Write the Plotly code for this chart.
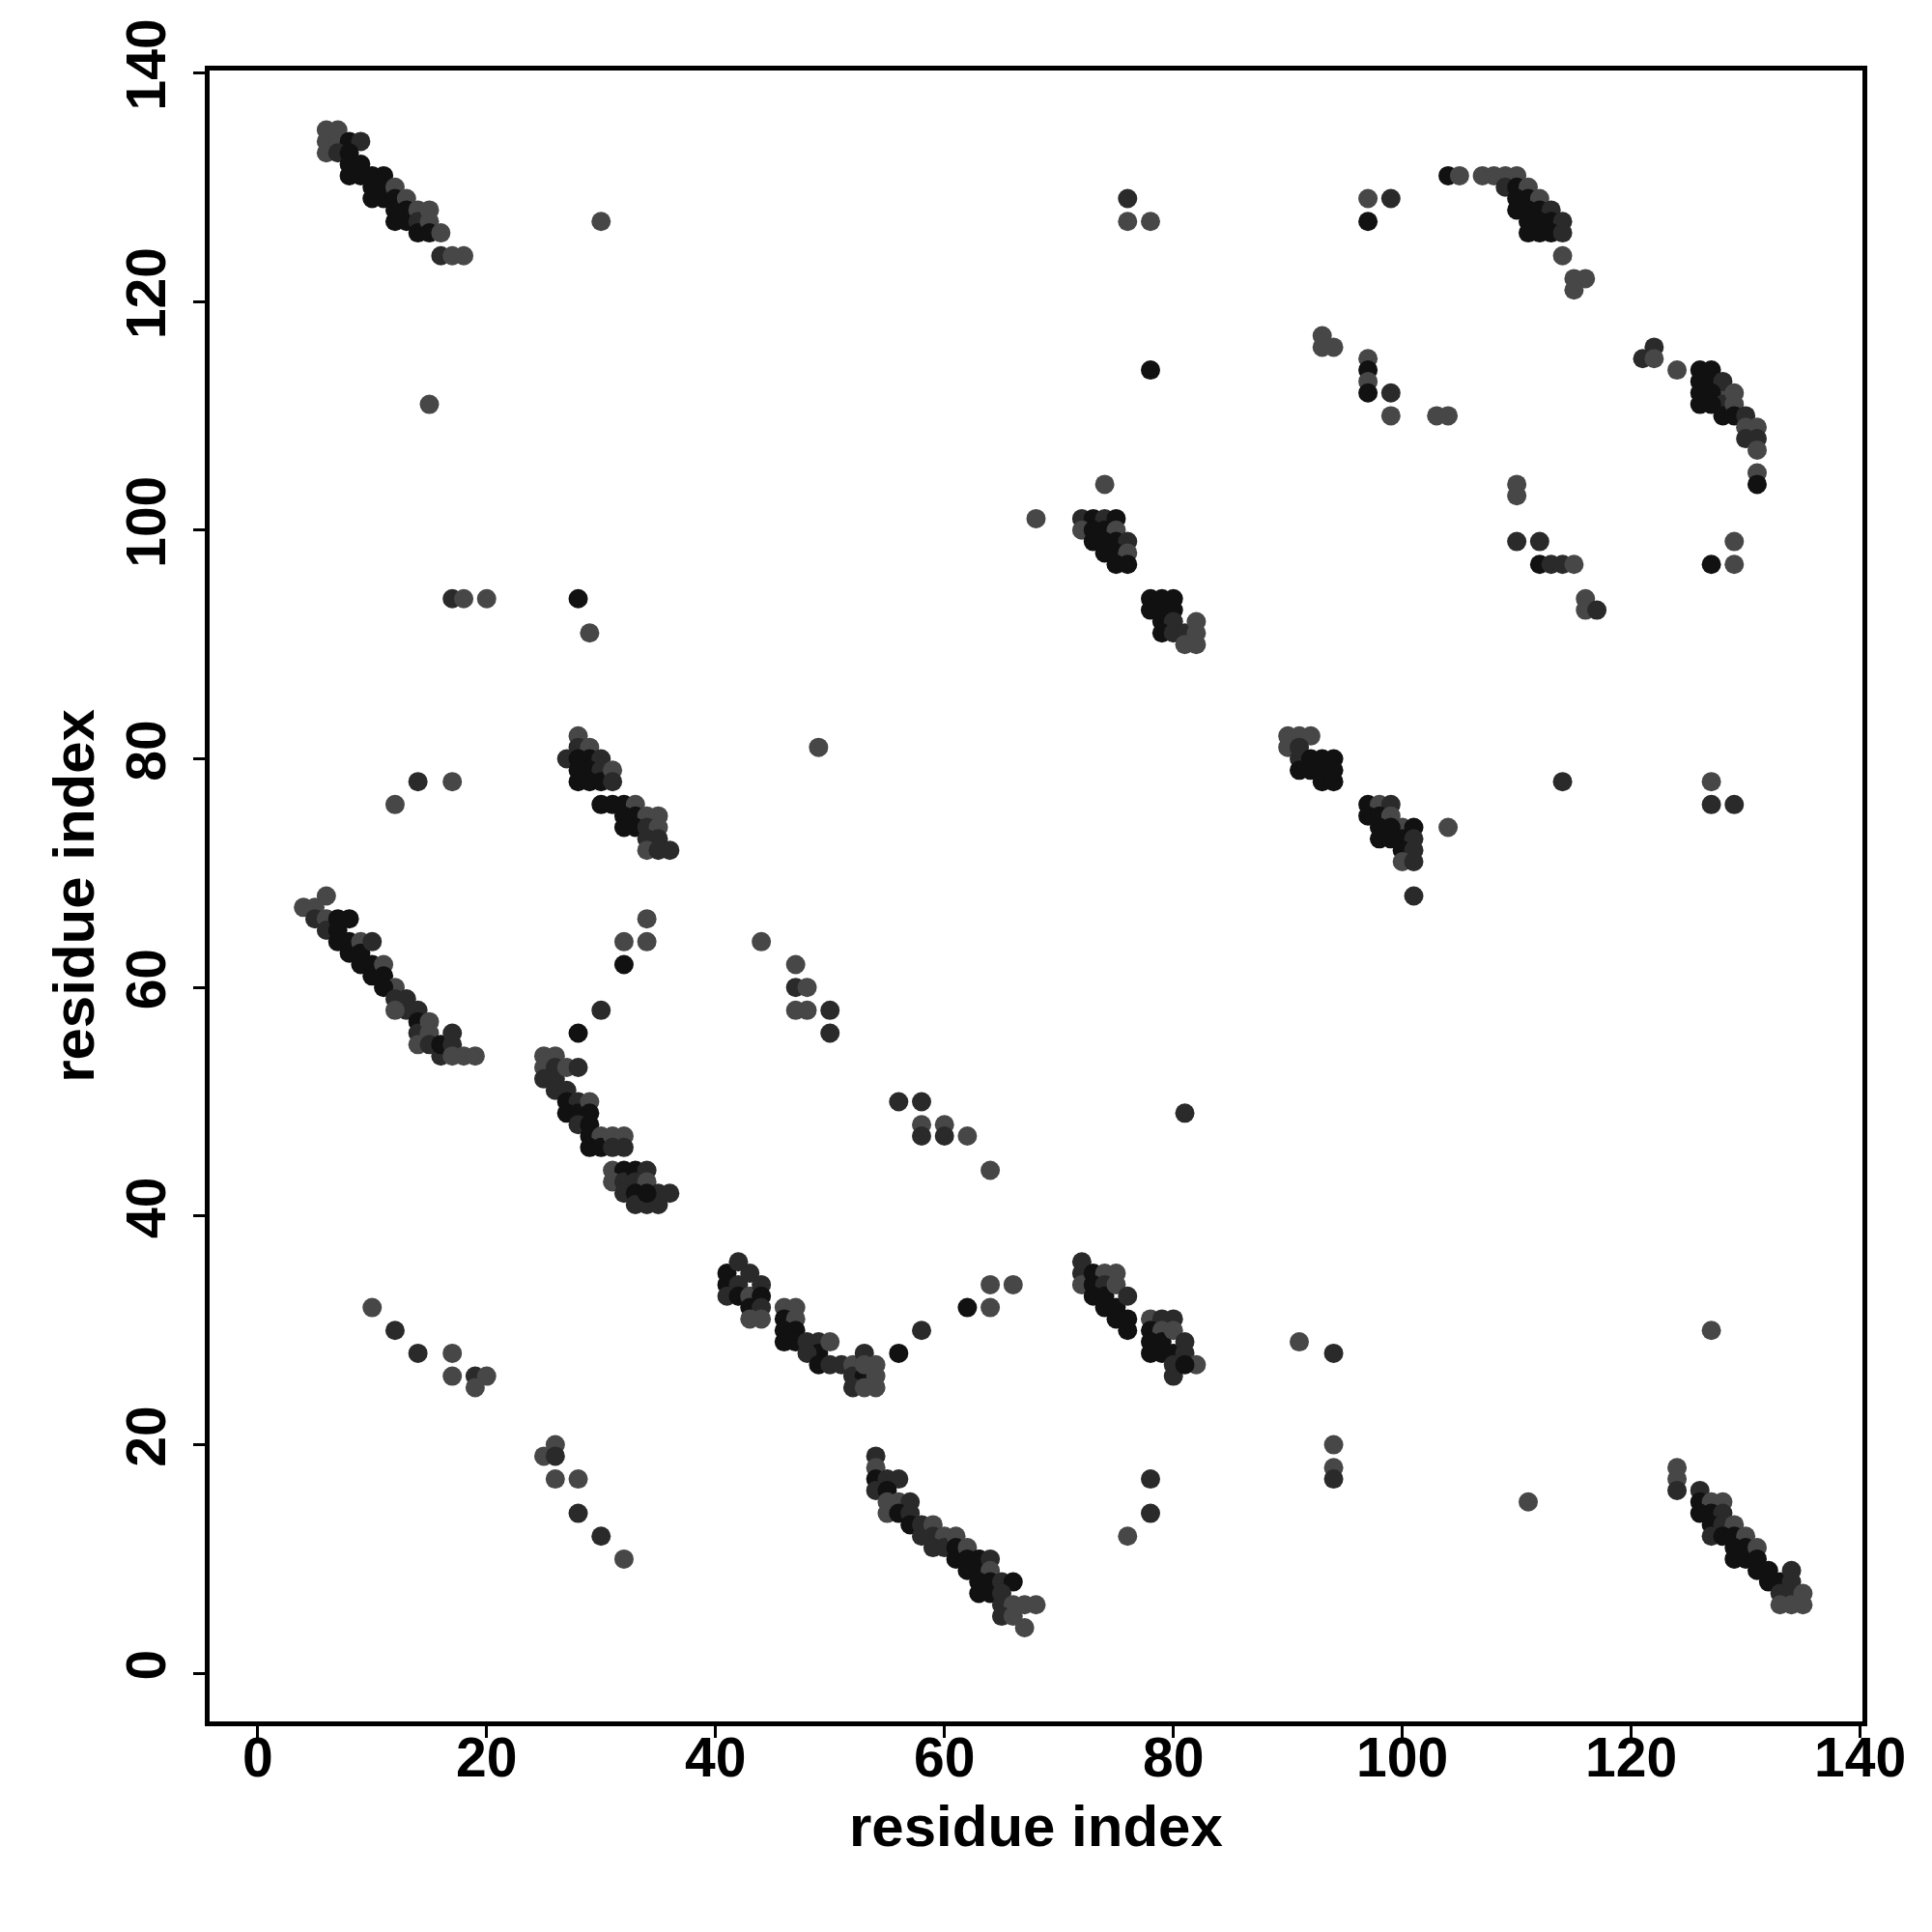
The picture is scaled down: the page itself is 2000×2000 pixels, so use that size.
import plotly.graph_objects as go

# contacts: (residue i, residue j, shade level 0=black 1=dark 2=gray)
band_a = [(6,135,2),(7,135,2),(6,134,2),(6,133,2),(7,134,2),(8,134,0),(9,134,1),(7,133,1),(8,133,0),
          (8,132,0),(9,132,0),(8,131,0),(9,131,0),(10,131,0),(10,130,0),(11,131,0),(11,130,0),(10,129,0),
          (11,129,0),(12,130,2),(12,129,0),(12,128,0),(13,129,2),(13,128,0),(12,127,0),(13,127,0),
          (14,128,2),(14,127,1),(14,126,0),(15,128,2),(15,127,2),(15,126,0),(16,126,2),(16,124,1),
          (17,124,2),(18,124,2)]
band_b = [(4,67,2),(5,67,2),(6,68,2),(5,66,1),(6,66,2),(6,65,1),(7,66,0),(7,65,0),(8,66,0),(7,64,0),
          (8,64,0),(8,63,0),(9,64,2),(9,63,0),(10,64,1),(9,62,0),(10,62,0),(10,61,0),(11,62,2),(11,61,0),
          (12,60,2),(11,60,0),(12,59,1),(13,59,1),(13,58,1),(12,58,2),(14,58,1),(14,57,0),(14,56,1),
          (15,57,2),(15,56,2),(14,55,2),(15,55,1),(16,54,1),(16,55,0),(17,56,1),(17,55,1),(17,54,2),
          (18,54,2),(19,54,2)]
band_c = [(25,54,2),(26,54,2),(25,53,2),(26,53,1),(25,52,1),(26,52,1),(27,53,2),(28,53,1),(26,51,1),
          (27,51,1),(27,50,0),(28,50,1),(27,49,0),(28,49,0),(29,50,2),(29,49,0),(28,48,1),(29,48,0),
          (29,47,0),(30,47,2),(29,46,0),(30,46,0),(31,47,2),(32,47,2),(31,46,1),(32,46,1),(31,44,2),
          (32,44,0),(31,43,2),(32,43,1),(33,44,0),(34,44,1),(33,43,1),(34,43,2),(32,42,1),(33,42,0),
          (33,41,1),(34,41,1),(35,42,1),(36,42,1),(35,41,1),(34,42,0)]
band_d = [(27,80,1),(28,82,2),(28,81,1),(29,81,2),(28,80,0),(29,80,0),(30,80,1),(28,79,0),(29,79,0),
          (30,79,1),(28,78,0),(29,78,0),(30,78,0),(31,79,2),(31,78,1),(30,76,0),(31,76,0),(32,76,0),
          (33,76,2),(32,75,0),(33,75,0),(34,75,2),(35,75,2),(32,74,0),(33,74,0),(34,74,1),(35,74,2),
          (34,73,1),(35,73,1),(34,72,2),(35,72,1),(36,72,1)]
band_e = [(41,35,0),(42,36,1),(41,34,0),(42,34,1),(43,35,1),(41,33,1),(42,33,0),(43,33,2),(44,34,1),
          (44,33,0),(43,32,0),(44,32,1),(43,31,2),(44,31,2),(46,32,2),(47,32,2),(46,31,0),(47,31,2),
          (46,30,0),(47,30,0),(46,29,0),(47,29,0),(48,29,1),(49,29,1),(49,28,0),(50,29,2),(48,28,1),
          (49,27,0),(50,27,1),(51,27,1),(52,27,2),(53,28,1),(52,26,1),(53,26,0),(52,25,1),(53,25,2),
          (54,25,2),(54,26,2),(54,27,2),(53,27,2)]
band_f = [(54,19,1),(54,18,2),(54,17,0),(55,17,1),(56,17,1),(54,16,1),(55,16,0),(55,15,2),(56,15,2),
          (57,15,1),(55,14,2),(56,14,0),(57,14,1),(57,13,0),(58,13,1),(58,12,1),(59,13,2),(59,12,1),
          (60,12,2),(59,11,1),(60,11,1),(61,12,2),(61,11,0),(61,10,0),(62,11,2),(62,10,0),(63,10,0),
          (62,9,0),(63,9,0),(64,10,1),(64,9,2),(63,8,0),(64,8,0),(63,7,0),(64,7,0),(65,8,1),(66,8,0),
          (65,7,1),(65,6,1),(66,6,2),(65,5,1),(66,5,2),(67,6,2),(68,6,2),(67,4,2)]
band_g = [(72,36,1),(72,35,1),(72,34,2),(73,35,0),(74,35,2),(75,35,2),(73,34,0),(74,34,1),(73,33,0),
          (74,33,0),(75,34,2),(74,32,0),(75,32,0),(76,33,1),(75,31,0),(76,31,0),(76,30,0),(78,31,2),
          (79,31,1),(80,31,1),(78,30,0),(79,30,2),(78,29,0),(79,29,0),(80,30,2),(78,28,0),(79,28,0),
          (80,28,0),(81,29,1),(80,27,1),(81,28,1),(82,27,2),(80,26,1),(81,27,0)]
band_h = [(68,101,2),(72,101,1),(73,101,0),(74,101,1),(75,101,0),(72,100,2),(73,100,0),(74,100,0),
          (75,100,2),(74,104,2),(73,99,0),(74,99,0),(75,99,0),(76,99,1),(74,98,0),(75,98,0),(76,98,2),
          (75,97,0),(76,97,0),(78,94,0),(79,94,0),(80,94,0),(78,93,0),(79,93,0),(80,93,0),(79,92,0),
          (80,92,1),(79,91,0),(80,91,1),(81,91,1),(82,92,2),(81,90,2),(82,90,2),(82,91,2)]
band_i = [(90,82,2),(91,82,2),(92,82,2),(90,81,2),(91,81,1),(91,80,1),(92,80,0),(93,80,0),(91,79,0),
          (92,79,0),(93,79,0),(94,80,0),(94,79,0),(93,78,0),(94,78,0),(97,76,0),(98,76,2),(99,76,1),
          (97,75,0),(98,75,0),(99,75,2),(100,74,2),(98,74,0),(99,74,0),(98,73,0),(99,73,0),(100,73,0),
          (101,74,0),(101,73,1),(100,72,0),(101,72,1),(100,71,2),(101,71,1),(104,74,2),(101,68,1)]
band_j = [(104,131,0),(105,131,2),(107,131,2),(108,131,2),(109,131,2),(110,131,2),(109,130,1),
          (110,130,0),(111,130,2),(110,129,0),(111,129,0),(112,129,2),(110,128,0),(111,128,0),
          (112,128,0),(113,128,1),(111,127,0),(112,127,0),(113,127,0),(114,127,1),(111,126,0),
          (112,126,0),(113,126,0),(114,126,1),(114,124,2),(115,122,2),(116,122,2),(115,121,2)]
band_k = [(121,115,1),(122,116,1),(122,115,2),(124,114,2),(126,114,0),(127,114,0),(126,113,0),
          (126,112,0),(127,113,0),(128,112,2),(128,113,1),(127,112,0),(128,111,1),(129,112,2),
          (126,111,0),(127,111,0),(128,110,0),(129,111,2),(129,110,0),(130,110,1),(130,109,2),
          (131,109,2),(130,108,1),(131,108,1),(131,107,2),(131,105,2),(131,104,0)]
band_l = [(124,18,2),(124,17,2),(124,16,1),(126,16,1),(126,15,0),(127,15,2),(128,15,2),(126,14,0),
          (127,14,0),(128,14,1),(127,13,0),(128,13,1),(129,13,2),(127,12,1),(128,12,0),(129,12,0),
          (130,12,2),(129,11,0),(130,11,0),(129,10,0),(130,10,0),(131,11,2),(131,10,0),(131,9,0),
          (132,9,0),(132,8,0),(133,8,0),(134,9,1),(134,8,1),(133,7,1),(134,7,1),(135,7,2),(133,6,2),
          (134,6,2),(135,6,2)]
isolated = [(30,127,2),(15,111,2),(17,94,1),(18,94,2),(20,94,2),(28,94,0),(29,91,2),(12,76,2),(14,78,1),
            (17,78,2),(49,81,2),(34,66,2),(34,64,2),(32,64,2),(32,62,0),(30,58,1),(28,56,0),(44,64,2),
            (47,62,2),(47,60,1),(48,60,2),(47,58,2),(48,58,2),(50,58,1),(50,56,1),(56,50,1),(58,50,1),
            (58,48,2),(58,47,1),(60,48,2),(60,47,1),(62,47,2),(64,44,2),(81,49,1),(10,32,2),(12,30,1),
            (14,28,1),(17,28,2),(17,26,2),(19,26,1),(20,26,2),(19,25,2),(25,19,2),(26,20,2),(26,19,1),
            (26,17,2),(28,17,2),(28,14,1),(30,12,1),(32,10,2),(56,28,0),(58,30,1),(62,32,0),(64,34,2),
            (64,32,2),(66,34,2),(76,12,2),(78,17,1),(78,14,1),(91,29,2),(94,28,1),(94,20,2),(94,18,2),
            (94,17,1),(111,15,2),(127,30,2),(76,129,1),(76,127,2),(78,127,2),(78,114,0),(97,129,2),
            (97,127,0),(99,129,1),(93,117,2),(93,116,2),(94,116,2),(97,115,2),(97,114,0),(97,113,2),
            (97,112,0),(99,112,1),(99,110,2),(103,110,2),(104,110,2),(110,104,2),(110,103,2),(110,99,1),
            (112,99,1),(112,97,0),(113,97,1),(114,97,1),(115,97,2),(116,94,2),(116,93,2),(117,93,1),
            (114,78,1),(127,97,0),(129,99,2),(129,97,2),(127,78,2),(127,76,1),(129,76,1)]

tick_vals = [0, 20, 40, 60, 80, 100, 120, 140]
axis_label = "residue index"
shade_colors = {0: "#111111", 1: "#2a2a2a", 2: "#474747"}

groups = [band_a, band_b, band_c, band_d, band_e, band_f, band_g, band_h,
          band_i, band_j, band_k, band_l, isolated]
xs, ys, cs = [], [], []
for g in groups:
    for (i, j, s) in g:
        xs.append(i)
        ys.append(j)
        cs.append(shade_colors[s])

fig = go.Figure(go.Scatter(
    x=xs, y=ys, mode="markers",
    marker=dict(size=20, color=cs, line=dict(width=0)),
    hoverinfo="x+y",
))

font_family = "Liberation Sans, Arial, sans-serif"
axis_common = dict(
    range=[-4.2, 140.2], tickvals=tick_vals, ticks="outside", ticklen=12, tickwidth=3,
    tickcolor="black", showline=True, linewidth=5, linecolor="black", mirror=True,
    showgrid=False, zeroline=False, automargin=False,
    tickfont=dict(family=font_family, size=57, color="black", weight="bold"),
)

fig.update_layout(
    width=2000, height=2000,
    margin=dict(l=209, r=80, t=65, b=226, autoexpand=False),
    plot_bgcolor="white", paper_bgcolor="white",
    showlegend=False,
    xaxis=dict(**axis_common),
    yaxis=dict(**axis_common),
    annotations=[
        dict(text="<b>" + axis_label + "</b>", xref="paper", yref="paper",
             x=0.5, y=-0.0637, xanchor="center", yanchor="middle", showarrow=False,
             font=dict(family=font_family, size=60, color="black")),
        dict(text="<b>" + axis_label + "</b>", xref="paper", yref="paper",
             x=-0.0822, y=0.5, xanchor="center", yanchor="middle", showarrow=False,
             textangle=-90, font=dict(family=font_family, size=60, color="black")),
    ],
)
fig.update_xaxes(ticklabelstandoff=-28)
fig.update_yaxes(tickangle=-90, ticklabelstandoff=6)

fig.write_html("out.html")
